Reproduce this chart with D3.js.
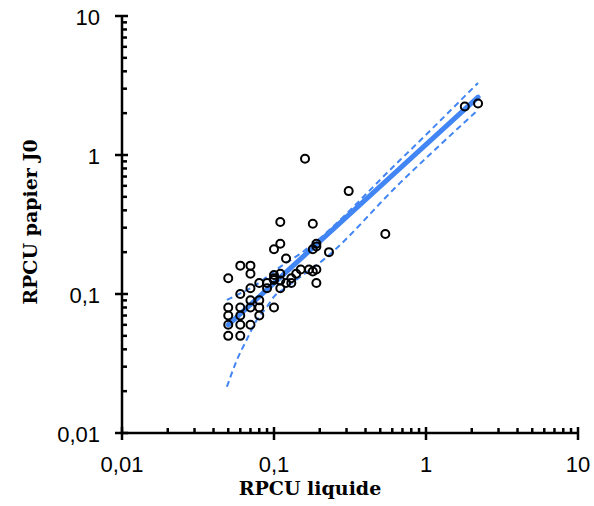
<!DOCTYPE html>
<html>
<head>
<meta charset="utf-8">
<script src="https://cdn.jsdelivr.net/npm/d3@7"></script>
<style>
  body { margin: 0; background: #fff; }
  svg { display: block; }
</style>
</head>
<body>
<div id="chart"></div>
<script>
// measured values: RPCU liquide (x) vs RPCU papier J0 (y)
const liquide = [
  0.05, 0.06, 0.05, 0.06, 0.07, 0.05, 0.06, 0.08, 0.05, 0.06, 0.07, 0.08, 0.10,
  0.07, 0.08, 0.06, 0.07, 0.09, 0.11, 0.08, 0.09, 0.10, 0.11, 0.12, 0.13, 0.19,
  0.05, 0.10, 0.13, 0.07, 0.10, 0.11, 0.14, 0.18, 0.15, 0.17, 0.19, 0.06, 0.07,
  0.12, 0.23, 0.10, 0.18, 0.19, 0.11, 0.19, 0.54, 0.18, 0.11, 0.31, 0.16, 1.8, 2.2
];
const papierJ0 = [
  0.05, 0.05, 0.06, 0.06, 0.06, 0.07, 0.07, 0.07, 0.08, 0.08, 0.08, 0.08, 0.08,
  0.09, 0.09, 0.10, 0.11, 0.11, 0.11, 0.12, 0.12, 0.126, 0.125, 0.12, 0.12, 0.12,
  0.13, 0.13, 0.13, 0.14, 0.137, 0.14, 0.14, 0.145, 0.15, 0.15, 0.15, 0.16, 0.16,
  0.18, 0.20, 0.21, 0.21, 0.22, 0.23, 0.23, 0.27, 0.32, 0.33, 0.55, 0.94, 2.23, 2.35
];

// regression line and confidence band
const fitX = [0.05, 2.2];
const fitY = [0.06, 2.61];
const upperX = [0.049, 0.06, 0.073, 0.09, 0.115, 0.145, 0.675, 2.2];
const upperY = [0.0906, 0.101, 0.113, 0.133, 0.162, 0.191, 0.92, 3.30];
const lowerX = [0.049, 0.057, 0.066, 0.077, 0.09, 0.10, 0.118, 0.145, 0.211, 0.675, 2.2];
const lowerY = [0.0215, 0.0335, 0.0467, 0.065, 0.081, 0.0957, 0.110, 0.130, 0.176, 0.63, 2.11];

const majorTicks = [0.01, 0.1, 1, 10];
const majorLabels = ["0,01", "0,1", "1", "10"];

const width = 594, height = 506;
const margin = {top: 16, right: 16, bottom: 73, left: 122};
const blue = "#4285f4";

const svg = d3.select("#chart").append("svg")
  .attr("width", width).attr("height", height);

const x = d3.scaleLog().domain([0.01, 10]).range([margin.left, width - margin.right]);
const y = d3.scaleLog().domain([0.01, 10]).range([height - margin.bottom, margin.top]);

const minorTicks = [];
majorTicks.slice(0, -1).forEach(m => { for (let k = 2; k <= 9; k++) minorTicks.push(m * k); });

// axes
const axes = svg.append("g").attr("stroke", "#000").attr("stroke-width", 2.5);
axes.append("line")
  .attr("x1", x(0.01)).attr("x2", x(10))
  .attr("y1", y(0.01)).attr("y2", y(0.01));
axes.append("line")
  .attr("x1", x(0.01)).attr("x2", x(0.01))
  .attr("y1", y(0.01)).attr("y2", y(10));

// minor ticks point inward
axes.selectAll(".xminor").data(minorTicks).join("line")
  .attr("x1", d => x(d)).attr("x2", d => x(d))
  .attr("y1", y(0.01)).attr("y2", y(0.01) - 5);
axes.selectAll(".yminor").data(minorTicks).join("line")
  .attr("y1", d => y(d)).attr("y2", d => y(d))
  .attr("x1", x(0.01)).attr("x2", x(0.01) + 5);

// major ticks cross the axis
axes.selectAll(".xmajor").data(majorTicks).join("line")
  .attr("x1", d => x(d)).attr("x2", d => x(d))
  .attr("y1", y(0.01) - 6).attr("y2", y(0.01) + 7);
axes.selectAll(".ymajor").data(majorTicks).join("line")
  .attr("y1", d => y(d)).attr("y2", d => y(d))
  .attr("x1", x(0.01) - 7).attr("x2", x(0.01) + 6);

const tickFont = "'Liberation Sans', Arial, sans-serif";
svg.selectAll(".xlab").data(majorTicks).join("text")
  .attr("x", d => x(d))
  .attr("y", y(0.01) + 39)
  .attr("text-anchor", "middle")
  .attr("font-family", tickFont)
  .attr("font-size", "22px")
  .text((d, i) => majorLabels[i]);
svg.selectAll(".ylab").data(majorTicks).join("text")
  .attr("x", x(0.01) - 22)
  .attr("y", d => y(d) + 9)
  .attr("text-anchor", "end")
  .attr("font-family", tickFont)
  .attr("font-size", "22px")
  .text((d, i) => majorLabels[i]);

// axis titles
const titleFont = "'DejaVu Serif', 'Liberation Serif', serif";
svg.append("text")
  .attr("x", 310).attr("y", 495)
  .attr("text-anchor", "middle")
  .attr("font-family", titleFont)
  .attr("font-weight", "bold")
  .attr("font-size", "19px")
  .text("RPCU liquide");
svg.append("text")
  .attr("transform", "translate(37, 222) rotate(-90)")
  .attr("text-anchor", "middle")
  .attr("font-family", titleFont)
  .attr("font-weight", "bold")
  .attr("font-size", "19px")
  .text("RPCU papier J0");

// regression and confidence band
const line = d3.line().x(d => x(d[0])).y(d => y(d[1])).curve(d3.curveMonotoneX);

svg.append("path")
  .datum(d3.zip(upperX, upperY))
  .attr("d", line)
  .attr("fill", "none").attr("stroke", blue)
  .attr("stroke-width", 2).attr("stroke-dasharray", "6,4");
svg.append("path")
  .datum(d3.zip(lowerX, lowerY))
  .attr("d", line)
  .attr("fill", "none").attr("stroke", blue)
  .attr("stroke-width", 2).attr("stroke-dasharray", "6,4");
svg.append("path")
  .datum(d3.zip(fitX, fitY))
  .attr("d", line)
  .attr("fill", "none").attr("stroke", blue)
  .attr("stroke-width", 5).attr("stroke-linecap", "round");

// points
svg.append("g").selectAll("circle")
  .data(d3.zip(liquide, papierJ0))
  .join("circle")
  .attr("cx", d => x(d[0]))
  .attr("cy", d => y(d[1]))
  .attr("r", 4)
  .attr("fill", "none")
  .attr("stroke", "#000")
  .attr("stroke-width", 2);
</script>
</body>
</html>
